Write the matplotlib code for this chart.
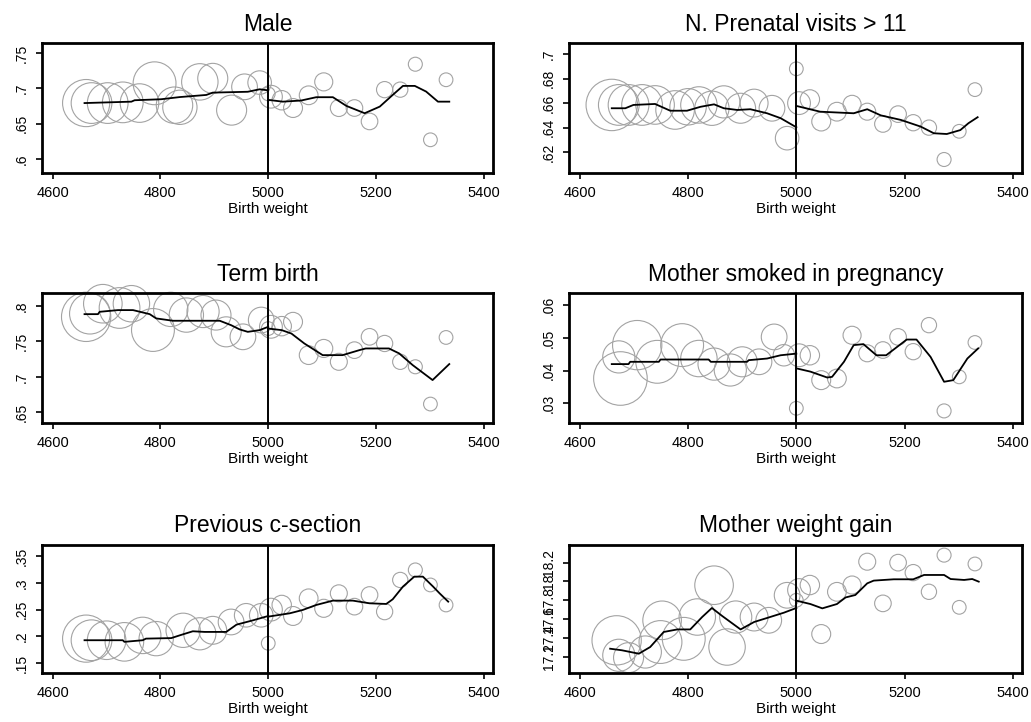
import matplotlib
matplotlib.use("Agg")
import matplotlib.pyplot as plt

plt.rcParams['font.family'] = ['Liberation Sans', 'DejaVu Sans']

# bins above the 5000 g cutoff (shared by all panels)
right_x = [5000, 5005, 5025, 5046, 5075, 5103, 5131, 5160, 5188, 5216, 5245, 5273, 5301, 5330]
right_n = [75, 207, 150, 143, 140, 130, 115, 110, 110, 105, 93, 78, 75, 75]

# --- Male
male_lx = [4662, 4672, 4702, 4730, 4761, 4789, 4826, 4836, 4873, 4897, 4932, 4956, 4984]
male_ly = [.679, .679, .679, .680, .679, .707, .676, .673, .709, .714, .669, .702, .708]
male_ln = [1002, 747, 747, 747, 671, 828, 598, 530, 598, 406, 406, 298, 250]
male_ry = [.692, .688, .683, .672, .690, .709, .672, .672, .653, .698, .698, .734, .627, .712]
male_fit_lx = [4659, 4746, 4752, 4801, 4836, 4885, 4897, 4962, 4984, 5000]
male_fit_ly = [.679, .681, .683, .6844, .6875, .6905, .6938, .695, .6985, .697]
male_fit_rx = [5000, 5027, 5061, 5089, 5120, 5145, 5179, 5207, 5231, 5250, 5272, 5293, 5315, 5336]
male_fit_ry = [.6835, .681, .6826, .6873, .6873, .675, .6646, .674, .6905, .7033, .7033, .6953, .681, .681]

# --- N. Prenatal visits > 11
pren_lx = [4659, 4672, 4690, 4715, 4739, 4776, 4800, 4820, 4844, 4866, 4897, 4922, 4955, 4983]
pren_ly = [.6585, .6585, .6585, .6585, .6585, .6544, .657, .6585, .6558, .661, .6558, .660, .6558, .6314]
pren_ln = [1192, 747, 747, 747, 671, 671, 598, 598, 530, 466, 406, 350, 298, 250]
pren_ry = [.688, .660, .663, .645, .653, .659, .653, .643, .651, .644, .640, .614, .637, .671]
pren_fit_lx = [4659, 4684, 4699, 4739, 4767, 4798, 4823, 4848, 4866, 4891, 4915, 4946, 4971, 5000]
pren_fit_ly = [.6558, .6558, .6585, .6593, .6538, .6538, .657, .659, .6558, .6544, .655, .6517, .6477, .6403]
pren_fit_rx = [5000, 5044, 5106, 5131, 5156, 5193, 5230, 5254, 5278, 5303, 5318, 5335]
pren_fit_ry = [.6577, .653, .6517, .655, .650, .6463, .6408, .6354, .6348, .638, .6436, .6485]

# --- Term birth
term_lx = [4662, 4669, 4693, 4724, 4746, 4786, 4819, 4848, 4879, 4903, 4922, 4953, 4987]
term_ly = [.7845, .789, .803, .797, .803, .766, .795, .787, .792, .787, .7634, .7564, .780]
term_ln = [1095, 747, 671, 747, 598, 828, 530, 530, 466, 406, 406, 298, 298]
term_ry = [.768, .7705, .7714, .7775, .7306, .740, .7212, .7376, .7564, .747, .7212, .7142, .6617, .7555]
term_fit_lx = [4659, 4684, 4687, 4721, 4749, 4780, 4792, 4823, 4873, 4910, 4931, 4947, 4962, 4984, 5000]
term_fit_ly = [.7883, .7883, .7916, .794, .794, .7883, .7823, .779, .779, .779, .7728, .7668, .7634, .7658, .7705]
term_fit_rx = [5000, 5025, 5043, 5067, 5101, 5138, 5169, 5181, 5224, 5243, 5268, 5305, 5336]
term_fit_ry = [.768, .7658, .761, .747, .7306, .7306, .7376, .740, .740, .733, .7166, .6955, .718]

# --- Mother smoked in pregnancy
smok_lx = [4672, 4675, 4706, 4743, 4789, 4820, 4848, 4878, 4900, 4931, 4959, 4977]
smok_ly = [.0442, .0376, .0478, .0427, .0478, .0437, .042, .0402, .0427, .0427, .0503, .0447]
smok_ln = [466, 1294, 1095, 828, 828, 598, 466, 466, 406, 298, 298, 207]
smok_ry = [.0285, .0447, .0447, .0371, .0376, .0508, .0453, .0463, .0503, .0458, .0539, .0277, .0381, .0486]
smok_fit_lx = [4659, 4690, 4693, 4746, 4749, 4838, 4842, 4909, 4912, 4946, 4971, 5000]
smok_fit_ly = [.042, .042, .0427, .0427, .0434, .0434, .0427, .0427, .0432, .0437, .0447, .0452]
smok_fit_rx = [5000, 5026, 5057, 5066, 5088, 5106, 5124, 5148, 5166, 5204, 5222, 5248, 5273, 5290, 5316, 5336]
smok_fit_ry = [.0407, .0397, .0379, .0381, .0427, .0478, .0481, .0447, .0447, .0495, .0495, .0442, .0366, .0371, .0437, .0468]

# --- Previous c-section
csec_lx = [4662, 4672, 4700, 4733, 4767, 4792, 4842, 4873, 4897, 4931, 4959, 4987]
csec_ly = [.196, .193, .193, .190, .202, .196, .2115, .205, .2115, .227, .2395, .2395]
csec_ln = [1002, 747, 671, 671, 598, 530, 530, 466, 350, 298, 250, 250]
csec_ry = [.1873, .250, .2587, .2382, .2711, .2525, .2804, .2556, .2773, .2463, .3053, .3239, .296, .2587]
csec_fit_lx = [4659, 4730, 4733, 4767, 4773, 4820, 4836, 4860, 4882, 4922, 4941, 4972, 5000]
csec_fit_ly = [.193, .193, .190, .193, .196, .197, .2022, .2097, .2085, .2085, .222, .2302, .2382]
csec_fit_rx = [5000, 5040, 5064, 5089, 5120, 5157, 5188, 5219, 5231, 5250, 5271, 5287, 5306, 5318, 5334]
csec_fit_ry = [.237, .2432, .2494, .2587, .2668, .2668, .2618, .2606, .2693, .2929, .3115, .3115, .2929, .2804, .2649]

# --- Mother weight gain
wgain_lx = [4668, 4672, 4690, 4721, 4749, 4752, 4792, 4817, 4848, 4872, 4888, 4922, 4949, 4983]
wgain_ly = [17.374, 17.215, 17.19, 17.25, 17.356, 17.587, 17.39, 17.622, 17.96, 17.303, 17.622, 17.622, 17.587, 17.853]
wgain_ln = [1095, 466, 406, 466, 828, 671, 828, 598, 671, 598, 466, 350, 298, 298]
wgain_ry = [17.80, 17.909, 17.962, 17.441, 17.89, 17.962, 18.21, 17.767, 18.2, 18.094, 17.89, 18.28, 17.725, 18.186]
wgain_fit_lx = [4656, 4678, 4709, 4730, 4755, 4780, 4804, 4826, 4844, 4863, 4897, 4922, 4946, 4977, 5000]
wgain_fit_ly = [17.285, 17.268, 17.232, 17.303, 17.463, 17.49, 17.49, 17.622, 17.718, 17.633, 17.49, 17.569, 17.612, 17.668, 17.718]
wgain_fit_rx = [5000, 5026, 5048, 5075, 5091, 5109, 5131, 5143, 5180, 5216, 5236, 5273, 5285, 5310, 5325, 5337]
wgain_fit_ry = [17.796, 17.76, 17.714, 17.76, 17.83, 17.856, 17.98, 18.009, 18.023, 18.023, 18.069, 18.069, 18.026, 18.016, 18.026, 17.998]

titles = ["Male", "N. Prenatal visits > 11", "Term birth",
          "Mother smoked in pregnancy", "Previous c-section", "Mother weight gain"]
x_ticks = [4600, 4800, 5000, 5200, 5400]
cutoff = 5000

panels = [
    (male_lx, male_ly, male_ln, male_ry, male_fit_lx, male_fit_ly, male_fit_rx, male_fit_ry,
     [.6, .65, .7, .75], (.580, .764)),
    (pren_lx, pren_ly, pren_ln, pren_ry, pren_fit_lx, pren_fit_ly, pren_fit_rx, pren_fit_ry,
     [.62, .64, .66, .68, .7], (.603, .709)),
    (term_lx, term_ly, term_ln, term_ry, term_fit_lx, term_fit_ly, term_fit_rx, term_fit_ry,
     [.65, .7, .75, .8], (.635, .818)),
    (smok_lx, smok_ly, smok_ln, smok_ry, smok_fit_lx, smok_fit_ly, smok_fit_rx, smok_fit_ry,
     [.03, .04, .05, .06], (.024, .0637)),
    (csec_lx, csec_ly, csec_ln, csec_ry, csec_fit_lx, csec_fit_ly, csec_fit_rx, csec_fit_ry,
     [.15, .2, .25, .3, .35], (.132, .3705)),
    (wgain_lx, wgain_ly, wgain_ln, wgain_ry, wgain_fit_lx, wgain_fit_ly, wgain_fit_rx, wgain_fit_ry,
     [17.2, 17.4, 17.6, 17.8, 18, 18.2], (17.027, 18.388)),
]

fig = plt.figure(figsize=(10.31, 7.22), dpi=100)
lefts = [0.0407, 0.5519]
widths = [0.4374, 0.4394]
bottoms = [0.7604, 0.4141, 0.0679]
heights = [0.18, 0.18, 0.1773]

for i, (lx, ly, ln, ry, flx, fly, frx, fry, yt, ylim) in enumerate(panels):
    row, col = divmod(i, 2)
    ax = fig.add_axes([lefts[col], bottoms[row], widths[col], heights[row]])

    # marker area proportional to bin count
    ax.scatter(lx, ly, s=[n * 1.15 for n in ln], facecolors='none', edgecolors='#a3a3a3',
               linewidths=0.8, clip_on=False, zorder=2)
    ax.scatter(right_x, ry, s=[n * 1.3 for n in right_n], facecolors='none', edgecolors='#a3a3a3',
               linewidths=0.8, clip_on=False, zorder=2)
    ax.plot(flx, fly, color='black', lw=1.3, zorder=3)
    ax.plot(frx, fry, color='black', lw=1.3, zorder=3)
    ax.axvline(cutoff, color='black', lw=1.4, zorder=4)

    ax.set_xlim(4580, 5417)
    ax.set_ylim(*ylim)
    ax.set_xticks(x_ticks)
    ax.set_xticklabels([str(t) for t in x_ticks], fontsize=10.5)
    ax.set_yticks(yt)
    ax.set_yticklabels([f"{v:g}".lstrip('0') for v in yt], fontsize=10, rotation=90, va='center')
    ax.tick_params(direction='out', length=4.5, width=1.2, pad=5)
    for sp in ax.spines.values():
        sp.set_linewidth(2)
    ax.set_title(titles[i], fontsize=16.5, pad=9)
    ax.set_xlabel("Birth weight", fontsize=11, labelpad=1)

fig.savefig("out.png", dpi=100, facecolor='white')
